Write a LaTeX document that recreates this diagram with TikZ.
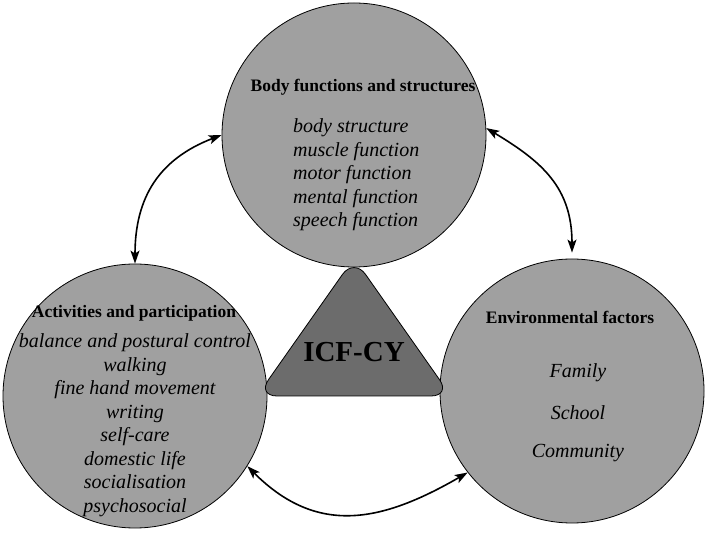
\documentclass[tikz,border=0pt]{standalone}
\usepackage{fontspec}
\setmainfont{Liberation Serif}
\usetikzlibrary{arrows.meta}
\definecolor{circfill}{RGB}{160,160,160}
\definecolor{trifill}{RGB}{108,108,108}
\tikzset{
  factor/.style={circle, draw=black, line width=0.8pt, fill=circfill, minimum size=264pt, inner sep=0pt},
  titletext/.style={font=\fontsize{17.5}{20}\selectfont\bfseries, inner sep=0pt},
  itemtext/.style={font=\fontsize{20}{23.5}\selectfont\itshape, inner sep=0pt},
  link/.style={line width=1.6pt, {Stealth[length=13pt,width=9pt,inset=3pt]}-{Stealth[length=13pt,width=9pt,inset=3pt]}}
}
\begin{document}
\begin{tikzpicture}[x=1pt,y=1pt]
\useasboundingbox (0,0) rectangle (708,532);
\node[factor] (body) at (354,397) {};
\node[factor] (act) at (135,136) {};
\node[factor] (env) at (572,141) {};
\coordinate (t1) at (257,136);
\coordinate (t2) at (451,136);
\coordinate (t3) at (354,274);
\draw[line width=0.8pt, fill=trifill, rounded corners=20pt] (t1) -- (t2) -- (t3) -- cycle;
\node[font=\fontsize{29}{32}\selectfont\bfseries, inner sep=0pt] (icf) at (354,180) {ICF-CY};
% body
\node[titletext] (bodyt) at (363,445) {Body functions and structures};
\node[itemtext, align=left, anchor=west] (bodyi) at (293,357) {body structure\\muscle function\\motor function\\mental function\\speech function};
% activities
\node[titletext] (actt) at (134,219) {Activities and participation};
\node[itemtext, align=center] (acti) at (135,107) {balance and postural control\\walking\\fine hand movement\\writing\\self-care\\domestic life\\socialisation\\psychosocial};
% environment
\node[titletext] (envt) at (570,215) {Environmental factors};
\node[itemtext] (fam) at (578,159) {Family};
\node[itemtext] (sch) at (578,119) {School};
\node[itemtext] (com) at (578,79) {Community};
% links
\draw[link] (act.90) to[out=90,in=201,looseness=1.1] (body.180);
\draw[link] (body.3) to[out=-31,in=90,looseness=1.1] ([yshift=6pt]env.90);
\draw[link] (act.-32) to[out=-45,in=210,looseness=1.15] (env.-142);
\end{tikzpicture}
\end{document}
